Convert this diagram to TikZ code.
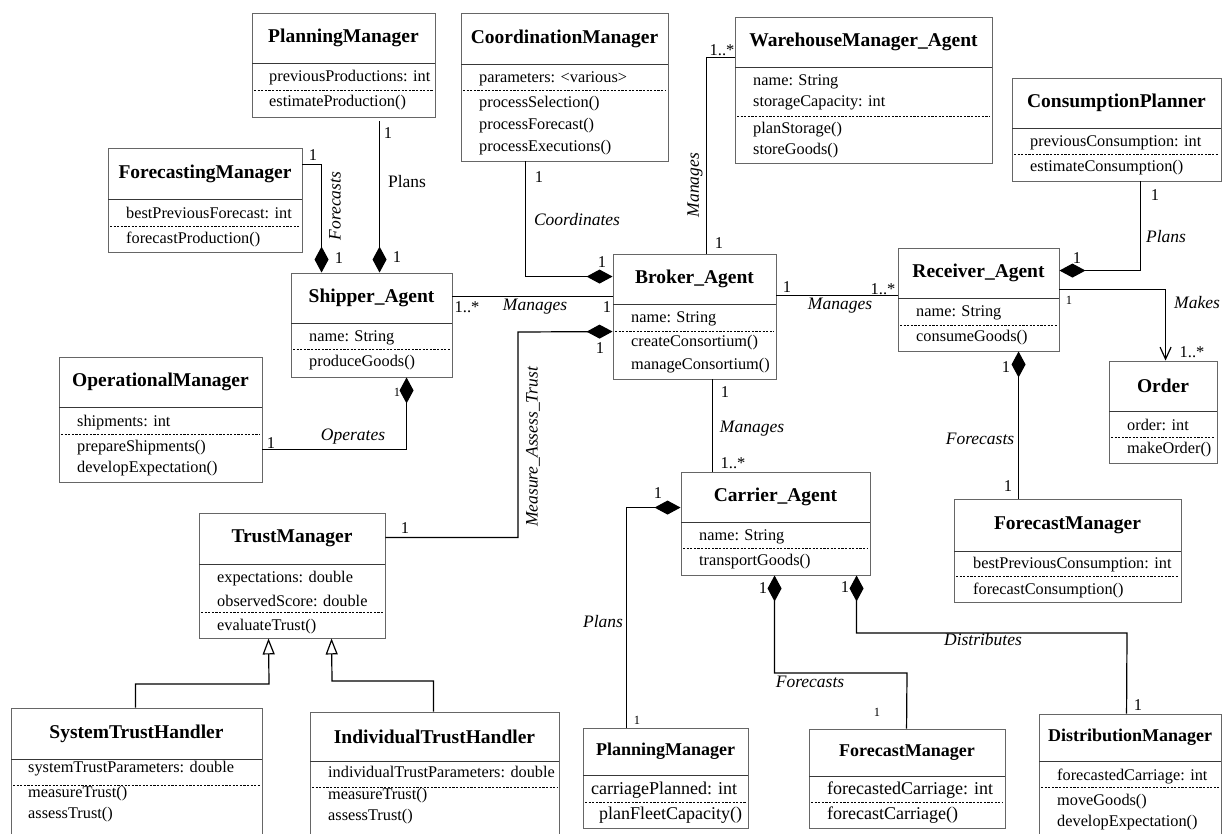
\documentclass[tikz,border=0pt]{standalone}
\usepackage{fontspec}
\setmainfont{Liberation Serif}
\usetikzlibrary{arrows.meta,fit,shadows}

% type sizes (1pt = 1 output pixel)
\newcommand{\clstitle}{\fontsize{19.5}{22}\selectfont\bfseries}
\newcommand{\clstitlesm}{\fontsize{18}{21}\selectfont\bfseries}
\newcommand{\memfont}{\fontsize{16.3}{19}\selectfont}
\newcommand{\memfontlg}{\fontsize{18}{21}\selectfont}
\newcommand{\lblfont}{\fontsize{17.5}{20}\selectfont\itshape}
\newcommand{\mulfont}{\fontsize{16.5}{19}\selectfont}
\newcommand{\mulfontsm}{\fontsize{12.5}{15}\selectfont}

\tikzset{
  classbox/.style={draw=black!60, line width=0.9pt, fill=white, inner sep=0pt,
    drop shadow={shadow xshift=1.3pt, shadow yshift=-1.3pt, opacity=0.18}},
  titlesep/.style={draw=black!78, line width=0.9pt},
  membersep/.style={draw=black, line width=0.8pt, dash pattern=on 2.2pt off 1.4pt},
  classtitle/.style={font=\clstitle, inner sep=0pt},
  member/.style={font=\memfont, anchor=west, inner sep=0pt},
  mult/.style={font=\mulfont, inner sep=0pt},
  multsm/.style={font=\mulfontsm, inner sep=0pt},
  role/.style={font=\lblfont, inner sep=0pt},
  assoc/.style={draw=black, line width=1.2pt},
  compstart/.style={{Diamond[length=26pt,width=14pt]}-},
  compend/.style={-{Diamond[length=26pt,width=14pt]}},
  navend/.style={-{Straight Barb[length=12pt,width=11pt]}},
  genend/.style={-{Triangle[open,length=16pt,width=12pt,fill=white]}}
}

% class box: name, left, top, right, bottom, title rule y, member rule y, title
\newcommand{\umlclass}[8]{%
  \coordinate (#1-nw) at (#2,#3);
  \coordinate (#1-se) at (#4,#5);
  \node[classbox, fit=(#1-nw)(#1-se)] (#1) {};
  \draw[titlesep] (#2,#6) -- (#4,#6);
  \draw[membersep] (#2+2,#7) -- (#4-2,#7);
  \node[classtitle] (#1-t) at ({(#2+#4)/2},{(#3+#6)/2}) {#8};
}
\newcommand{\mem}[4]{\node[member] (#1) at (#2,#3) {#4};}
\newcommand{\mul}[4]{\node[mult] (#1) at (#2,#3) {#4};}

\begin{document}
\begin{tikzpicture}[x=1pt, y=-1pt]
\useasboundingbox (0,0) rectangle (1222,833);
\clip (0,0) rectangle (1222,833);
\fill[white] (0,0) rectangle (1222,833);

% ---------------- classes ----------------
\umlclass{pmT}{252}{13}{435}{117}{63}{90}{PlanningManager}
\mem{pmT-a1}{269}{78}{previousProductions: int}
\mem{pmT-m1}{269}{103}{estimateProduction()}

\umlclass{fcm}{108}{148}{302}{252}{199}{226}{ForecastingManager}
\mem{fcm-a1}{126}{213}{bestPreviousForecast: int}
\mem{fcm-m1}{126}{239}{forecastProduction()}

\umlclass{cm}{461}{13}{668}{161}{64}{90}{CoordinationManager}
\mem{cm-a1}{479}{79}{parameters: <various>}
\mem{cm-m1}{479}{104}{processSelection()}
\mem{cm-m2}{479}{126}{processForecast()}
\mem{cm-m3}{479}{148}{processExecutions()}

\umlclass{wh}{735}{17}{992}{163}{67}{116}{WarehouseManager\_Agent}
\mem{wh-a1}{753}{82}{name: String}
\mem{wh-a2}{753}{103}{storageCapacity: int}
\mem{wh-m1}{753}{130}{planStorage()}
\mem{wh-m2}{753}{151}{storeGoods()}

\umlclass{cp}{1012}{78}{1221}{181}{128}{154}{ConsumptionPlanner}
\mem{cp-a1}{1030}{143}{previousConsumption: int}
\mem{cp-m1}{1030}{168}{estimateConsumption()}

\umlclass{shipper}{291}{273}{452}{377}{323}{349}{Shipper\_Agent}
\mem{shipper-a1}{309}{338}{name: String}
\mem{shipper-m1}{309}{363}{produceGoods()}

\umlclass{broker}{613}{254}{776}{379}{304}{331}{Broker\_Agent}
\mem{broker-a1}{631}{319}{name: String}
\mem{broker-m1}{631}{343}{createConsortium()}
\mem{broker-m2}{631}{366}{manageConsortium()}

\umlclass{receiver}{898}{248}{1059}{351}{298}{325}{Receiver\_Agent}
\mem{receiver-a1}{916}{313}{name: String}
\mem{receiver-m1}{916}{338}{consumeGoods()}

\umlclass{order}{1109}{361}{1217}{463}{411}{437}{Order}
\mem{order-a1}{1127}{425}{order: int}
\mem{order-m1}{1127}{450}{makeOrder()}

\umlclass{opm}{59}{357}{262}{482}{407}{434}{OperationalManager}
\mem{opm-a1}{77}{423}{shipments: int}
\mem{opm-m1}{77}{448}{prepareShipments()}
\mem{opm-m2}{77}{469}{developExpectation()}

\umlclass{trust}{199}{513}{385}{638}{564}{612}{TrustManager}
\mem{trust-a1}{217}{579}{expectations: double}
\mem{trust-a2}{217}{601}{observedScore: double}
\mem{trust-m1}{217}{627}{evaluateTrust()}

\umlclass{sth}{11}{708}{262}{845}{759}{785}{SystemTrustHandler}
\mem{sth-a1}{28}{769}{systemTrustParameters: double}
\mem{sth-m1}{28}{794}{measureTrust()}
\mem{sth-m2}{28}{815}{assessTrust()}

\umlclass{ith}{310}{712}{559}{845}{761}{787}{IndividualTrustHandler}
\mem{ith-a1}{328}{772}{individualTrustParameters: double}
\mem{ith-m1}{328}{796}{measureTrust()}
\mem{ith-m2}{328}{817}{assessTrust()}

\umlclass{carrier}{681}{472}{870}{575}{522}{548}{Carrier\_Agent}
\mem{carrier-a1}{699}{537}{name: String}
\mem{carrier-m1}{699}{562}{transportGoods()}

\umlclass{fmR}{954}{499}{1181}{602}{551}{576}{ForecastManager}
\mem{fmR-a1}{973}{565}{bestPreviousConsumption: int}
\mem{fmR-m1}{973}{590}{forecastConsumption()}

\umlclass{pmB}{583}{728}{748}{828}{775}{802}{\clstitlesm PlanningManager}
\mem{pmB-a1}{591}{790}{\memfontlg carriagePlanned: int}
\mem{pmB-m1}{599}{815}{\memfontlg planFleetCapacity()}

\umlclass{fmB}{809}{729}{1005}{828}{776}{802}{\clstitlesm ForecastManager}
\mem{fmB-a1}{827}{790}{\memfontlg forecastedCarriage: int}
\mem{fmB-m1}{827}{815}{\memfontlg forecastCarriage()}

\umlclass{dm}{1039}{714}{1221}{845}{761}{787}{\clstitlesm DistributionManager}
\mem{dm-a1}{1057}{777}{forecastedCarriage: int}
\mem{dm-m1}{1057}{802}{moveGoods()}
\mem{dm-m2}{1057}{823}{developExpectation()}

% ---------------- bend points ----------------
\coordinate (matBend) at (518,332);
\coordinate (fcBend) at (907,673);
\coordinate (dsBend) at (1127,633);
\coordinate (gen1Bend) at (269,684);
\coordinate (gen2Bend) at (332,681);

% ---------------- associations ----------------
% Plans: PlanningManager -> Shipper_Agent
\draw[assoc, compend, shorten <=4pt] ([xshift=128pt]pmT.south west) -- ([xshift=89pt]shipper.north west);
\mul{c1a}{388}{133}{1}
\node[font=\fontsize{17.5}{20}\selectfont, inner sep=0pt] (c1l) at (407,182) {Plans};
\mul{c1b}{397}{257}{1}

% Forecasts: ForecastingManager -> Shipper_Agent
\draw[assoc, compend] ([yshift=-17pt]fcm.north east) -| ([xshift=31pt]shipper.north west);
\mul{c2a}{313}{155}{1}
\node[role, rotate=90] (c2l) at (335,206) {Forecasts};
\mul{c2b}{339}{258}{1}

% Coordinates: CoordinationManager -> Broker_Agent
\draw[assoc, compend] ([xshift=65pt]cm.south west) |- ([yshift=-23pt]broker.north west);
\mul{c3a}{539}{177}{1}
\node[role] (c3l) at (577,220) {Coordinates};
\mul{c3b}{602}{262}{1}

% Manages: WarehouseManager_Agent -- Broker_Agent
\draw[assoc] ([yshift=-41pt]wh.north west) -| ([xshift=94pt]broker.north west);
\mul{c4a}{722}{50}{1..*}
\node[role, rotate=90] (c4l) at (695,185) {Manages};
\mul{c4b}{719}{243}{1}

% Plans: ConsumptionPlanner -> Receiver_Agent
\draw[assoc, compend] ([xshift=129pt]cp.south west) |- ([yshift=-23pt]receiver.north east);
\mul{c5a}{1155}{195}{1}
\node[role] (c5l) at (1166,237) {Plans};
\mul{c5b}{1077}{258}{1}

% Manages: Shipper_Agent -- Broker_Agent
\draw[assoc] ([yshift=-24pt]shipper.north east) -- ([yshift=-43pt]broker.north west);
\mul{c6a}{467}{307}{1..*}
\node[role] (c6l) at (535,307) {Manages};
\mul{c6b}{607}{307}{1}

% Manages: Broker_Agent -- Receiver_Agent
\draw[assoc] ([yshift=-42pt]broker.north east) -- ([yshift=-48pt]receiver.north west);
\mul{c7a}{787}{287}{1}
\mul{c7b}{883}{289}{1..*}
\node[role] (c7l) at (840,306) {Manages};

% Makes: Receiver_Agent -> Order
\draw[assoc, navend] ([yshift=-42pt]receiver.north east) -| ([xshift=57pt]order.north west);
\node[multsm] (c8a) at (1069,300) {1};
\node[role] (c8l) at (1197,303) {Makes};
\mul{c8b}{1192}{352}{1..*}

% Forecasts: Receiver_Agent -> ForecastManager
\draw[assoc, compstart] ([xshift=121pt]receiver.south west) -- ([xshift=65pt]fmR.north west);
\mul{c9a}{1006}{367}{1}
\node[role] (c9l) at (980,439) {Forecasts};
\mul{c9b}{1008}{486}{1}

% Operates: Shipper_Agent -> OperationalManager
\draw[assoc, compstart] ([xshift=116pt]shipper.south west) |- ([yshift=-93pt]opm.north east);
\node[multsm] (c10a) at (397,392) {1};
\node[role] (c10l) at (353,437) {Operates};
\mul{c10b}{271}{443}{1}

% Measure_Assess_Trust: TrustManager -> Broker_Agent
\draw[assoc, compend] ([yshift=-25pt]trust.north east) -| (matBend) -- ([yshift=-78pt]broker.north west);
\mul{c11a}{405}{528}{1}
\mul{c11b}{600}{348}{1}
\node[role, rotate=90] (c11l) at (533,447) {Measure\_Assess\_Trust};

% Manages: Broker_Agent -- Carrier_Agent
\draw[assoc] ([xshift=100pt]broker.south west) -- ([xshift=32pt]carrier.north west);
\mul{c12a}{725}{392}{1}
\node[role] (c12l) at (752,429) {Manages};
\mul{c12b}{733}{463}{1..*}

% Plans: Carrier_Agent -> PlanningManager
\draw[assoc, compstart] ([yshift=-36pt]carrier.north west) -| ([xshift=44pt]pmB.north west);
\mul{c13a}{658}{493}{1}
\node[role] (c13l) at (603,622) {Plans};
\node[multsm] (c13b) at (637,720) {1};

% Forecasts: Carrier_Agent -> ForecastManager
\draw[assoc, compstart] ([xshift=94pt]carrier.south west) |- (fcBend) -- ([xshift=98pt]fmB.north west);
\mul{c14a}{763}{588}{1}
\node[role] (c14l) at (810,682) {Forecasts};
\node[multsm] (c14b) at (877,712) {1};

% Distributes: Carrier_Agent -> DistributionManager
\draw[assoc, compstart] ([xshift=176pt]carrier.south west) |- (dsBend) -- ([xshift=88pt]dm.north west);
\mul{c15a}{845}{587}{1}
\node[role] (c15l) at (983,640) {Distributes};
\mul{c15b}{1138}{705}{1}

% ---------------- generalizations ----------------
\draw[assoc, genend] ([xshift=125pt]sth.north west) |- (gen1Bend) -- ([xshift=70pt]trust.south west);
\draw[assoc, genend] ([xshift=124pt]ith.north west) |- (gen2Bend) -- ([xshift=133pt]trust.south west);
\end{tikzpicture}
\end{document}
